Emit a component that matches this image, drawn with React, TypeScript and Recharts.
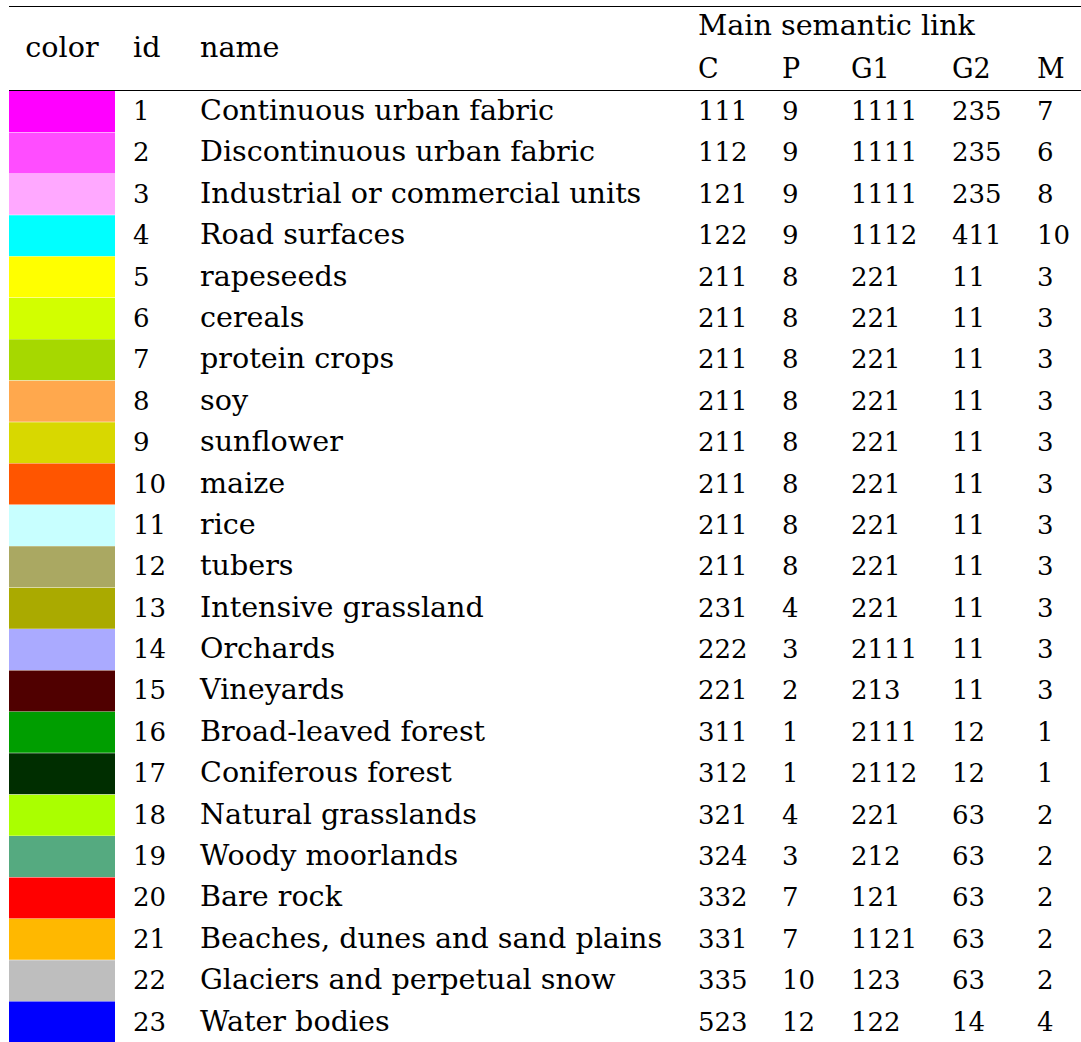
import React from "react";
import { BarChart, Bar, XAxis, YAxis, Cell, LabelList, Customized } from "recharts";

const ids = [1, 2, 3, 4, 5, 6, 7, 8, 9, 10, 11, 12, 13, 14, 15, 16, 17, 18, 19, 20, 21, 22, 23];
const names = [
  "Continuous urban fabric",
  "Discontinuous urban fabric",
  "Industrial or commercial units",
  "Road surfaces",
  "rapeseeds",
  "cereals",
  "protein crops",
  "soy",
  "sunflower",
  "maize",
  "rice",
  "tubers",
  "Intensive grassland",
  "Orchards",
  "Vineyards",
  "Broad-leaved forest",
  "Coniferous forest",
  "Natural grasslands",
  "Woody moorlands",
  "Bare rock",
  "Beaches, dunes and sand plains",
  "Glaciers and perpetual snow",
  "Water bodies",
];
const colors = [
  "#FF00FF", "#FF4DFF", "#FFA8FF", "#00FFFF", "#FFFF00", "#D2FF00", "#A6D800", "#FFA84D",
  "#D8D800", "#FF5500", "#C8FFFF", "#AAA862", "#AAAA00", "#AAAAFF", "#500000", "#009E00",
  "#002E00", "#AAFF00", "#55AA80", "#FF0000", "#FFB800", "#BEBEBE", "#0000FF",
];
const linkC = [111, 112, 121, 122, 211, 211, 211, 211, 211, 211, 211, 211, 231, 222, 221, 311, 312, 321, 324, 332, 331, 335, 523];
const linkP = [9, 9, 9, 9, 8, 8, 8, 8, 8, 8, 8, 8, 4, 3, 2, 1, 1, 4, 3, 7, 7, 10, 12];
const linkG1 = [1111, 1111, 1111, 1112, 221, 221, 221, 221, 221, 221, 221, 221, 221, 2111, 213, 2111, 2112, 221, 212, 121, 1121, 123, 122];
const linkG2 = [235, 235, 235, 411, 11, 11, 11, 11, 11, 11, 11, 11, 11, 11, 11, 12, 12, 63, 63, 63, 63, 63, 14];
const linkM = [7, 6, 8, 10, 3, 3, 3, 3, 3, 3, 3, 3, 3, 3, 3, 1, 1, 2, 2, 2, 2, 2, 4];

const subHeaders = ["C", "P", "G1", "G2", "M"];

const rows = ids.map((id, i) => ({
  id,
  name: names[i],
  swatch: 1,
  C: linkC[i],
  P: linkP[i],
  G1: linkG1[i],
  G2: linkG2[i],
  M: linkM[i],
}));

const FONT = "'DejaVu Serif', serif";
const FS_NUM = 26;
const FS_TXT = 28.6;
const W = 1081;
const H = 1043;
const TOP = 91;

const columns: { key: string; x: number; fs: number }[] = [
  { key: "id", x: 133, fs: FS_NUM },
  { key: "name", x: 200, fs: FS_TXT },
  { key: "C", x: 698, fs: FS_NUM },
  { key: "P", x: 782, fs: FS_NUM },
  { key: "G1", x: 851, fs: FS_NUM },
  { key: "G2", x: 952, fs: FS_NUM },
  { key: "M", x: 1037, fs: FS_NUM },
];

const makeCell = (colX: number, fs: number) => (props: any) => {
  const { y, height, value } = props;
  if (y == null) return null;
  return (
    <text
      x={colX}
      y={Number(y) + Number(height) / 2 + 8.5}
      fontFamily={FONT}
      fontSize={fs}
      fill="#000"
      textAnchor="start"
    >
      {value}
    </text>
  );
};

const Header = () => (
  <g>
    <line x1={9} x2={W} y1={6.5} y2={6.5} stroke="#000" strokeWidth={1.2} />
    <text x={62} y={57} fontFamily={FONT} fontSize={FS_TXT} textAnchor="middle" fill="#000">color</text>
    <text x={133} y={57} fontFamily={FONT} fontSize={FS_TXT} fill="#000">id</text>
    <text x={200} y={57} fontFamily={FONT} fontSize={FS_TXT} fill="#000">name</text>
    <text x={698} y={35} fontFamily={FONT} fontSize={FS_TXT} fill="#000">Main semantic link</text>
    {subHeaders.map((h, i) => (
      <text key={h} x={columns[i + 2].x} y={78} fontFamily={FONT} fontSize={27} fill="#000">
        {h}
      </text>
    ))}
    <line x1={9} x2={W} y1={90.5} y2={90.5} stroke="#000" strokeWidth={1} />
  </g>
);

export default function App() {
  return (
    <div style={{ position: "absolute", left: 0, top: 0, background: "#fff" }}>
      <BarChart
        width={W}
        height={H}
        data={rows}
        layout="vertical"
        margin={{ top: TOP, right: W - 115, bottom: 0, left: 9 }}
        barCategoryGap={0}
        barGap={0}
      >
        <XAxis type="number" domain={[0, 1]} hide />
        <YAxis type="category" dataKey="id" hide />
        <Bar dataKey="swatch" isAnimationActive={false}>
          {rows.map((r, i) => (
            <Cell key={r.id} fill={colors[i]} />
          ))}
          {columns.map((c) => (
            <LabelList key={c.key} dataKey={c.key} content={makeCell(c.x, c.fs)} />
          ))}
        </Bar>
        <Customized component={Header} />
      </BarChart>
    </div>
  );
}
